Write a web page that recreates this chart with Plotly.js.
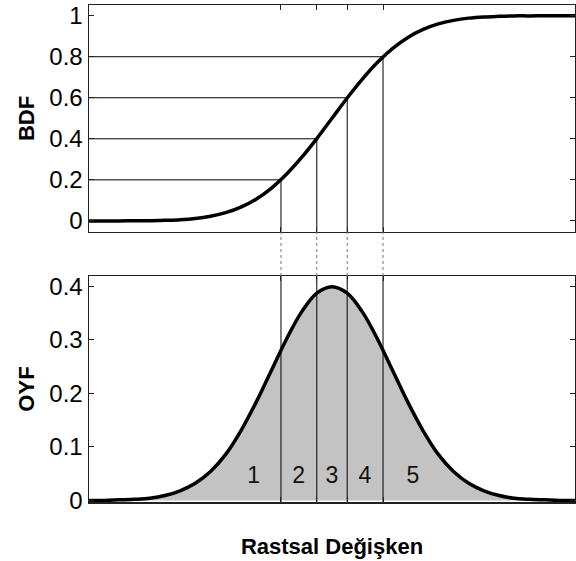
<!DOCTYPE html>
<html>
<head>
<meta charset="utf-8">
<script src="https://cdn.plot.ly/plotly-3.0.1.min.js"></script>
<style>html,body{margin:0;padding:0;background:#fff;}#chart{width:576px;height:561px;}</style>
</head>
<body>
<div id="chart"></div>
<script>
// Random variable grid (x axis spans -4..4)
const xVals = [-4,-3.75,-3.5,-3.25,-3,-2.75,-2.5,-2.25,-2,-1.75,-1.5,-1.25,-1,-0.75,-0.5,-0.25,0,
               0.25,0.5,0.75,1,1.25,1.5,1.75,2,2.25,2.5,2.75,3,3.25,3.5,3.75,4];
// BDF (cumulative) values
const bdfVals = [0.000,0.000,0.000,0.001,0.001,0.003,0.006,0.012,0.023,0.040,0.067,0.106,0.159,0.227,0.309,0.401,0.500,
                 0.599,0.691,0.773,0.841,0.894,0.933,0.960,0.977,0.988,0.994,0.997,0.999,0.999,1.000,1.000,1.000];
// OYF (density) values
const oyfVals = [0.000,0.000,0.001,0.002,0.004,0.009,0.018,0.032,0.054,0.086,0.130,0.183,0.242,0.301,0.352,0.387,0.399,
                 0.387,0.352,0.301,0.242,0.183,0.130,0.086,0.054,0.032,0.018,0.009,0.004,0.002,0.001,0.000,0.000];
// Quantile cut points and their BDF levels
const cutX = [-0.84,-0.25,0.25,0.84];
const cutLevels = [0.2,0.4,0.6,0.8];
// Region labels in the lower panel
const regionLabels = ["1","2","3","4","5"];
const regionX = [-1.29,-0.55,0.0,0.54,1.33];
const regionY = [0.043,0.043,0.043,0.043,0.043];
// Tick labels
const bdfTicks = [0,0.2,0.4,0.6,0.8,1];
const bdfTickText = ["0","0.2","0.4","0.6","0.8","1"];
const oyfTicks = [0,0.1,0.2,0.3,0.4];
const oyfTickText = ["0","0.1","0.2","0.3","0.4"];

const topRange = [-0.054,1.052];
const botRange = [-0.003,0.419];
const xRange = [-4,4];

// Build guide lines from the cut arrays
const hx = [], hy = [], vx = [], vy = [];
cutX.forEach((q,i)=>{
  hx.push(xRange[0], q, null); hy.push(cutLevels[i], cutLevels[i], null);
  vx.push(q, q, null); vy.push(topRange[0], cutLevels[i], null);
});
const bx = [], by = [];
cutX.forEach(q=>{ bx.push(q,q,null); by.push(botRange[0], botRange[1], null); });

const FONT = "Liberation Sans, Arial, sans-serif";

const traces = [
  {x:hx, y:hy, xaxis:'x', yaxis:'y', mode:'lines', line:{color:'#000', width:1}, hoverinfo:'skip'},
  {x:vx, y:vy, xaxis:'x', yaxis:'y', mode:'lines', line:{color:'#000', width:1}, hoverinfo:'skip'},
  {x:xVals, y:bdfVals, xaxis:'x', yaxis:'y', mode:'lines', line:{color:'#000', width:3.5, shape:'spline'}},
  {x:xVals, y:oyfVals, xaxis:'x2', yaxis:'y2', mode:'lines', fill:'tozeroy', fillcolor:'#c3c3c3', line:{width:0, shape:'spline'}},
  {x:bx, y:by, xaxis:'x2', yaxis:'y2', mode:'lines', line:{color:'#000', width:1}, hoverinfo:'skip'},
  {x:xVals, y:oyfVals, xaxis:'x2', yaxis:'y2', mode:'lines', line:{color:'#000', width:3.5, shape:'spline'}},
  {x:regionX, y:regionY, xaxis:'x2', yaxis:'y2', mode:'text', text:regionLabels,
   textfont:{family:FONT, size:23, color:'#111'}, textposition:'middle center'}
];

const shapes = cutX.map(q=>({type:'line', xref:'x', yref:'paper', x0:q, x1:q, y0:0.4547, y1:0.5433,
  line:{color:'#777', width:1, dash:'dot'}}));

const axisCommon = {showgrid:false, zeroline:false, showline:true, linecolor:'#222', linewidth:1.5,
  mirror:'ticks', ticks:'inside', ticklen:5, tickcolor:'#222'};

const layout = {
  width:576, height:561,
  margin:{l:89, r:1, t:5, b:59},
  paper_bgcolor:'#fff', plot_bgcolor:'#fff',
  showlegend:false,
  font:{family:FONT, size:24, color:'#000'},
  xaxis:Object.assign({}, axisCommon, {domain:[0,1], range:xRange, anchor:'y', tickvals:cutX, showticklabels:false}),
  yaxis:Object.assign({}, axisCommon, {domain:[0.5433,1], range:topRange, anchor:'x', tickvals:bdfTicks, ticktext:bdfTickText,
    title:{text:'<b>BDF</b>', font:{family:FONT, size:22}, standoff:8}}),
  xaxis2:Object.assign({}, axisCommon, {domain:[0,1], range:xRange, anchor:'y2', tickvals:cutX, showticklabels:false,
    title:{text:'<b>Rastsal Değişken</b>', font:{family:FONT, size:22}, standoff:36}}),
  yaxis2:Object.assign({}, axisCommon, {domain:[0,0.4547], range:botRange, anchor:'x2', tickvals:oyfTicks, ticktext:oyfTickText,
    title:{text:'<b>OYF</b>', font:{family:FONT, size:22}, standoff:8}}),
  shapes:shapes
};

Plotly.newPlot('chart', traces, layout, {staticPlot:true, displayModeBar:false});
</script>
</body>
</html>
